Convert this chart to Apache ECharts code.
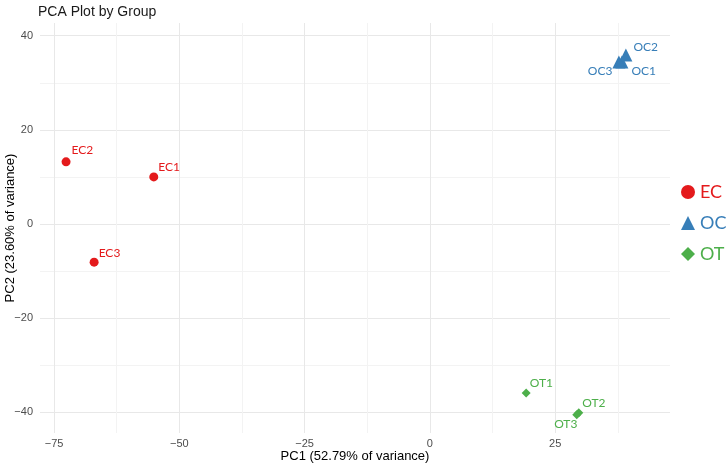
<!DOCTYPE html>
<html><head><meta charset="utf-8">
<script src="https://cdn.jsdelivr.net/npm/echarts@6/dist/echarts.min.js"></script>
<style>html,body{margin:0;padding:0;background:#fff}#c{width:726px;height:466px}</style>
</head><body><div id="c"></div>
<script>
const groups = ['EC', 'OC', 'OT'];
const ecNames = ['EC1', 'EC2', 'EC3'];
const ecPC1 = [-55.1, -72.6, -67.0];
const ecPC2 = [10.0, 13.2, -8.1];
const ocNames = ['OC1', 'OC2', 'OC3'];
const ocPC1 = [38.3, 39.1, 37.7];
const ocPC2 = [34.4, 35.9, 34.4];
const otNames = ['OT1', 'OT2', 'OT3'];
const otPC1 = [19.2, 29.7, 29.3];
const otPC2 = [-35.9, -40.1, -40.5];
const xTicks = [-75, -50, -25, 0, 25];
const xMinor = [-62.5, -37.5, -12.5, 12.5, 37.5];
const yTicks = [-40, -20, 0, 20, 40];
const yMinor = [-30, -10, 10, 30];

const colors = { EC: '#e41a1c', OC: '#377eb8', OT: '#4daf4a' };
const symbols = { EC: 'circle', OC: 'triangle', OT: 'diamond' };
const sizes = { EC: 9, OC: 13, OT: 9 };
const labelPlace = {
  EC1: { position: 'right', offset: [-2, -10] },
  EC2: { position: 'right', offset: [-1, -12] },
  EC3: { position: 'right', offset: [-2, -9] },
  OC1: { position: 'right', offset: [1, 9] },
  OC2: { position: 'right', offset: [-1, -8] },
  OC3: { position: 'left', offset: [2, 9] },
  OT1: { position: 'right', offset: [-3, -10] },
  OT2: { position: 'right', offset: [-3, -10] },
  OT3: { position: 'bottom', offset: [-11, -3] }
};
const labelFont = 'Lato, "Open Sans", sans-serif';
const minus = v => String(v).replace('-', '\u2212');

function build(g, names, xs, ys) {
  return {
    name: g, type: 'scatter', symbol: symbols[g], symbolSize: sizes[g],
    itemStyle: { color: colors[g], opacity: 1 },
    data: names.map((n, i) => ({
      value: [xs[i], ys[i]], name: n,
      label: Object.assign({ show: true, distance: 2 }, labelPlace[n])
    })),
    label: { show: true, formatter: p => p.name, color: colors[g], fontSize: 12, fontFamily: labelFont },
    emphasis: { disabled: true }
  };
}

const chart = echarts.init(document.getElementById('c'), null, { renderer: 'canvas' });
const axisBase = { type: 'value', axisLine: { show: false } };
chart.setOption({
  animation: false,
  backgroundColor: '#fff',
  title: {
    text: 'PCA Plot by Group', left: 33, top: 0,
    textStyle: { fontFamily: '"Liberation Sans", Arial, sans-serif', fontSize: 14, fontWeight: 'normal', color: '#1a1a1a' }
  },
  grid: { left: 40, right: 56, top: 23, bottom: 33, containLabel: false, outerBoundsMode: 'none' },
  legend: {
    orient: 'vertical', left: 681, top: 182, padding: 0, itemWidth: 14, itemHeight: 14, itemGap: 11,
    data: groups.map(g => ({ name: g, icon: symbols[g], textStyle: { color: colors[g] } })),
    textStyle: { fontSize: 18, fontFamily: labelFont, lineHeight: 20 },
    selectedMode: false
  },
  xAxis: [
    Object.assign({}, axisBase, {
      min: -77.8, max: 47.9,
      name: 'PC1 (52.79% of variance)', nameLocation: 'middle', nameGap: 17, nameMoveOverlap: false,
      nameTextStyle: { fontSize: 13, color: '#000', fontFamily: '"Liberation Sans", Arial, sans-serif' },
      axisTick: { show: false, customValues: xTicks },
      axisLabel: { customValues: xTicks, formatter: minus, color: '#4d4d4d', fontSize: 11, margin: 5, fontFamily: '"Liberation Sans", Arial, sans-serif' },
      splitLine: { show: true, lineStyle: { color: '#e8e8e8', width: 1 } }
    }),
    Object.assign({}, axisBase, {
      min: -77.8, max: 47.9, position: 'bottom',
      axisTick: { show: false, customValues: xMinor },
      axisLabel: { show: false },
      splitLine: { show: true, lineStyle: { color: '#f3f3f3', width: 1 } }
    })
  ],
  yAxis: [
    Object.assign({}, axisBase, {
      min: -44.4, max: 42.7,
      name: 'PC2 (23.60% of variance)', nameLocation: 'middle', nameGap: 23, nameMoveOverlap: false,
      nameTextStyle: { fontSize: 13, color: '#000', fontFamily: '"Liberation Sans", Arial, sans-serif' },
      axisTick: { show: false, customValues: yTicks },
      axisLabel: { customValues: yTicks, formatter: minus, color: '#4d4d4d', fontSize: 11, margin: 7, fontFamily: '"Liberation Sans", Arial, sans-serif' },
      splitLine: { show: true, lineStyle: { color: '#e8e8e8', width: 1 } }
    }),
    Object.assign({}, axisBase, {
      min: -44.4, max: 42.7, position: 'left',
      axisTick: { show: false, customValues: yMinor },
      axisLabel: { show: false },
      splitLine: { show: true, lineStyle: { color: '#f3f3f3', width: 1 } }
    })
  ],
  series: [
    build('EC', ecNames, ecPC1, ecPC2),
    build('OC', ocNames, ocPC1, ocPC2),
    build('OT', otNames, otPC1, otPC2)
  ]
});
</script></body></html>
